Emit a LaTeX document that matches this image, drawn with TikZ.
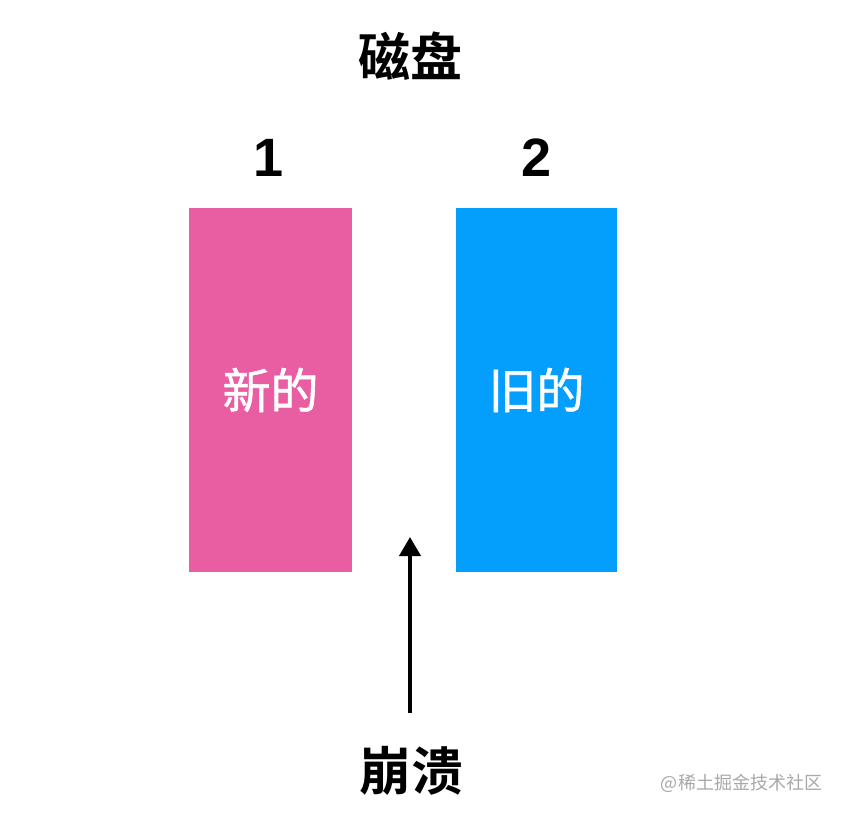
\documentclass[tikz,border=0pt]{standalone}
\usepackage{fontspec}
\usetikzlibrary{arrows.meta}
\newfontfamily\cjk{Noto Sans CJK SC}
\newfontface\cjkm{Noto Sans CJK SC}[FakeBold=1.2]
\newfontfamily\cjkb{Noto Sans CJK SC Bold}
\setmainfont{Liberation Sans}
\definecolor{pinkc}{HTML}{E95EA2}
\definecolor{bluec}{HTML}{049EFC}
\definecolor{wmark}{HTML}{A8A8A8}
\tikzset{
  diskbox/.style={draw=none, minimum height=364pt, inner sep=0pt, text=white,
    font=\cjkm\fontsize{48}{48}\selectfont},
  titletext/.style={inner sep=0pt, font=\cjkb\fontsize{52}{52}\selectfont},
  numtext/.style={inner sep=0pt, font=\bfseries\fontsize{54}{54}\selectfont},
  arrowline/.style={line width=4pt, -{Triangle[length=19pt,width=21pt]}},
}
\begin{document}
\begin{tikzpicture}[x=1pt,y=-1pt]
\useasboundingbox[fill=white] (0,0) rectangle (844,816);
\node[titletext] (title) at (410,56) {磁盘};
\node[numtext] (n1) at (269,158) {1};
\node[numtext] (n2) at (537,158) {2};
\node[diskbox, fill=pinkc, minimum width=163pt] (b1) at (270.5,390) {新的};
\node[diskbox, fill=bluec, minimum width=161pt] (b2) at (536.5,390) {旧的};
\node[titletext] (crash) at (411,771) {崩溃};
\coordinate (a0) at (410,713);
\coordinate (a1) at (410,537);
\draw[arrowline] (a0) -- (a1);
\node[inner sep=0pt, text=wmark, font=\cjk\fontsize{18}{18}\selectfont] (wm) at (741.5,783) {@稀土掘金技术社区};
\end{tikzpicture}
\end{document}
